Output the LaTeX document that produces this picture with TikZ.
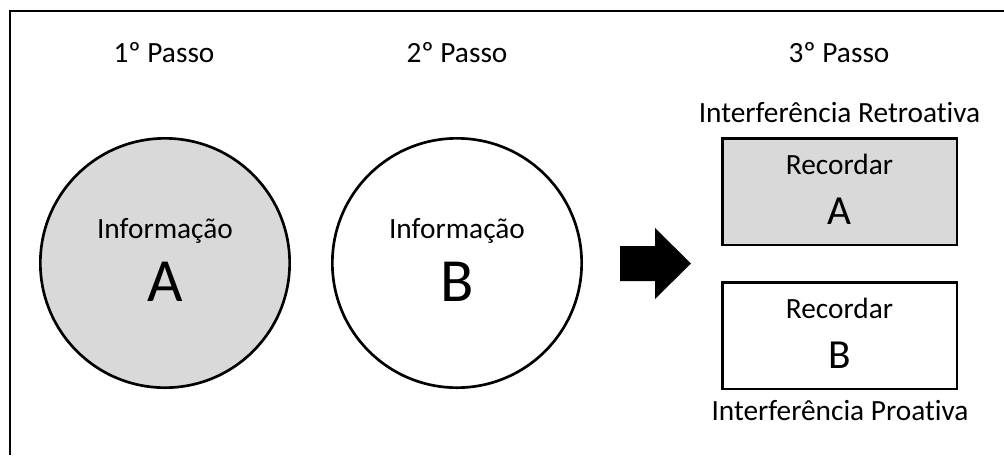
\documentclass[tikz,border=0pt]{standalone}
\usepackage{fontspec}
\setmainfont{Carlito}[Ligatures=NoCommon]
\usepackage{xcolor}
\usepackage{tikz}
\usetikzlibrary{positioning}
\definecolor{memgray}{RGB}{217,217,217}

\begin{document}
\begin{tikzpicture}[x=0.75pt, y=-0.75pt,
    txt/.style={font=\fontsize{22}{26}\selectfont, inner sep=0pt, anchor=base},
    bigtxt/.style={font=\fontsize{46}{50}\selectfont, inner sep=0pt, anchor=base},
    midtxt/.style={font=\fontsize{31}{34}\selectfont, inner sep=0pt, anchor=base},
    infocirc/.style={circle, draw, line width=2pt, minimum size=187pt, inner sep=0pt},
    recallbox/.style={draw, line width=2pt, minimum width=176pt, minimum height=80pt, inner sep=0pt}]
    \useasboundingbox (0,0) rectangle (1004,455);
    % Frame
    \coordinate (fbl) at (10,455);
    \coordinate (ftl) at (10,11);
    \coordinate (ftr) at (1004,11);
    \draw[line width=1pt] (fbl) -- (ftl) -- (ftr);

    % Steps
    \node[txt] (step1) at (164,62) {1º Passo};
    \node[txt] (step2) at (457,62) {2º Passo};
    \node[txt] (step3) at (839,62) {3º Passo};

    % Information circles
    \foreach \n/\x/\c/\l in {a/165/memgray/A, b/457/white/B} {
        \node[infocirc, fill=\c] (info\n) at (\x,263) {};
        \node[txt] (infot\n) at (\x,238) {Informação};
        \node[bigtxt] (infol\n) at (\x,301) {\l};
    }

    % Arrow
    \coordinate (arr) at (620,263.5);
    \fill (arr) ++(0,-17.5) -- ++(35,0) -- ++(0,-18) -- ++(36,35.5)
        -- ++(-36,35.5) -- ++(0,-18) -- ++(-35,0) -- cycle;

    % Recall boxes
    \foreach \n/\y/\c/\l in {a/191.5/memgray/A, b/335.5/white/B} {
        \node[recallbox, fill=\c] (rec\n) at (839.5,\y) {};
        \node[txt] (rect\n) at (839.5,\y-17) {Recordar};
        \node[midtxt] (recl\n) at (839.5,\y+33) {\l};
    }

    % Interference labels
    \node[txt] (retro) at (839.5,122) {Interferência Retroativa};
    \node[txt] (proa) at (840,420) {Interferência Proativa};
\end{tikzpicture}
\end{document}
